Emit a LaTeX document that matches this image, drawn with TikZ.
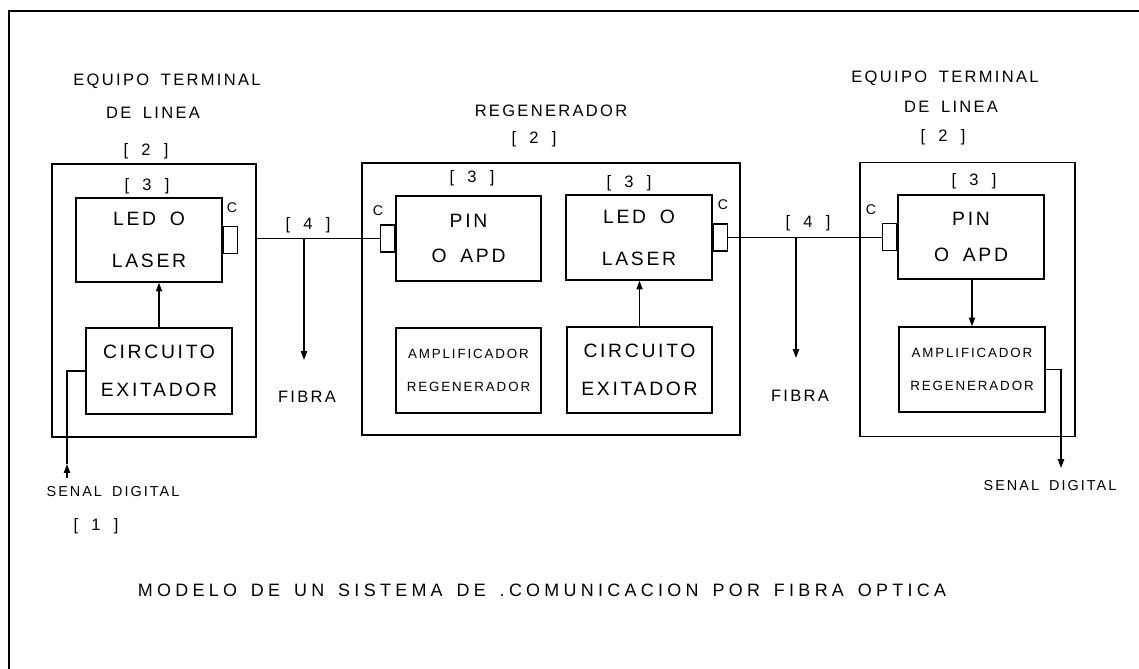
\documentclass[tikz,border=0pt]{standalone}
\usepackage{fontspec}
\setmainfont{Liberation Sans}[LetterSpace=14, WordSpace=1.7]
\newfontfamily\titlefont{Liberation Sans}[LetterSpace=24, WordSpace=1.5]
\usetikzlibrary{positioning,arrows.meta}
\newcommand{\refno}[1]{[\hspace{0.8em}#1\hspace{0.8em}]}

\begin{document}
\begin{tikzpicture}[x=0.02cm, y=-0.02cm,
  blk/.style={draw, thick, inner sep=0pt},
  boxtxt/.style={align=center, font=\fontsize{11}{13}\selectfont},
  smalltxt/.style={align=center, font=\fontsize{7.6}{9}\selectfont},
  conn/.style={draw, thick, minimum width=0.28cm, minimum height=0.54cm, inner sep=0pt},
  lbl/.style={font=\fontsize{9.4}{11}\selectfont, inner sep=0pt},
  clbl/.style={font=\fontsize{8}{9}\selectfont, inner sep=0pt},
  sig/.style={font=\fontsize{8.2}{10}\selectfont, inner sep=0pt},
  arr/.style={thick, -{Triangle[length=5pt,width=3.5pt]}},
  fib/.style={thick}]
  \useasboundingbox (0,0) rectangle (1139,669);

  % Draw outer frame
  \draw[line width=1.2pt] (9,669) -- (9,11) -- (1139,11);

  % Left terminal
  \node[blk, minimum width=4.08cm, minimum height=5.46cm] (term1) at (154,300.5) {};
  \node[blk, boxtxt, minimum width=2.92cm, minimum height=1.68cm] (laser1) at (149,240) {LED O\\[11pt]LASER};
  \node[blk, boxtxt, minimum width=2.92cm, minimum height=1.72cm] (exc1) at (159,371) {CIRCUITO\\[8.5pt]EXITADOR};
  \node[conn, right=0pt of laser1] (c1) {};
  \node[lbl] (t1a) at (167,81) {EQUIPO TERMINAL};
  \node[lbl] (t1b) at (153,113) {DE LINEA};
  \node[lbl] (t1n) at (146,151) {\refno{2}};
  \node[lbl] (l1n) at (147,186) {\refno{3}};
  \node[clbl] (c1l) at (232,208) {C};

  % Regenerator
  \node[blk, minimum width=7.56cm, minimum height=5.44cm] (regen) at (551,299) {};
  \node[blk, boxtxt, minimum width=2.9cm, minimum height=1.7cm] (pin1) at (468.5,238.5) {PIN\\[7pt]O APD};
  \node[blk, boxtxt, minimum width=2.92cm, minimum height=1.7cm] (laser2) at (639,237.5) {LED O\\[11pt]LASER};
  \node[blk, smalltxt, minimum width=2.9cm, minimum height=1.7cm] (amp1) at (468.5,370.5) {AMPLIFICADOR\\[10pt]REGENERADOR};
  \node[blk, boxtxt, minimum width=2.9cm, minimum height=1.72cm] (exc2) at (639.5,370) {CIRCUITO\\[8.5pt]EXITADOR};
  \node[conn, left=0pt of pin1] (c2) {};
  \node[conn, right=0pt of laser2] (c3) {};
  \node[lbl] (rga) at (551,111) {REGENERADOR};
  \node[lbl] (rgn) at (534,139) {\refno{2}};
  \node[lbl] (p1n) at (472,178) {\refno{3}};
  \node[lbl] (l2n) at (629,183) {\refno{3}};
  \node[clbl] (c2l) at (378,211) {C};
  \node[clbl] (c3l) at (723,205) {C};

  % Right terminal
  \node[blk, minimum width=4.3cm, minimum height=5.48cm] (term2) at (967.5,299.5) {};
  \node[blk, boxtxt, minimum width=2.92cm, minimum height=1.68cm] (pin2) at (971,237) {PIN\\[7pt]O APD};
  \node[blk, smalltxt, minimum width=2.92cm, minimum height=1.7cm] (amp2) at (972,369.5) {AMPLIFICADOR\\[10pt]REGENERADOR};
  \node[conn, left=0pt of pin2] (c4) {};
  \node[lbl] (t2a) at (945,78) {EQUIPO TERMINAL};
  \node[lbl] (t2b) at (951,107) {DE LINEA};
  \node[lbl] (t2n) at (943,137) {\refno{2}};
  \node[lbl] (p2n) at (974,181) {\refno{3}};
  \node[clbl] (c4l) at (871,210) {C};

  % Fibres
  \draw[fib] (c2.west) -- (c2.west -| term1.east);
  \draw[fib] (c3.east) -- (c3.east -| c4.west);
  \coordinate (tap1) at (304,238);
  \coordinate (fib1) at (304,360);
  \coordinate (tap2) at (796,237);
  \coordinate (fib2) at (796,358);
  \draw[arr] (tap1) -- (fib1);
  \draw[arr] (tap2) -- (fib2);
  \node[lbl] (f1n) at (308,225) {\refno{4}};
  \node[lbl] (f1l) at (307,397) {FIBRA};
  \node[lbl] (f2n) at (808,223) {\refno{4}};
  \node[lbl] (f2l) at (800,396) {FIBRA};

  % Inner arrows
  \draw[arr] (exc1.north) -- (exc1.north |- laser1.south);
  \draw[arr] (exc2.north) -- (exc2.north |- laser2.south);
  \draw[arr] (pin2.south -| 972,0) -- (amp2.north -| 972,0);

  % Input and output signal
  \coordinate (in1) at (67,478);
  \coordinate (in1h) at (67,464);
  \coordinate (out2) at (1061,468);
  \draw[arr] (in1) -- (in1h);
  \draw[thick] (in1h) |- (exc1.west);
  \draw[arr] (amp2.east) -| (out2);
  \node[sig] (s1) at (113,492) {SENAL DIGITAL};
  \node[lbl] (s1n) at (96,526) {\refno{1}};
  \node[sig] (s2) at (1050,486) {SENAL DIGITAL};

  % Caption
  \node[inner sep=0pt, font=\titlefont\fontsize{10.2}{12}\selectfont] (cap) at (542,590) {MODELO DE UN SISTEMA DE .COMUNICACION POR FIBRA OPTICA};
\end{tikzpicture}
\end{document}
